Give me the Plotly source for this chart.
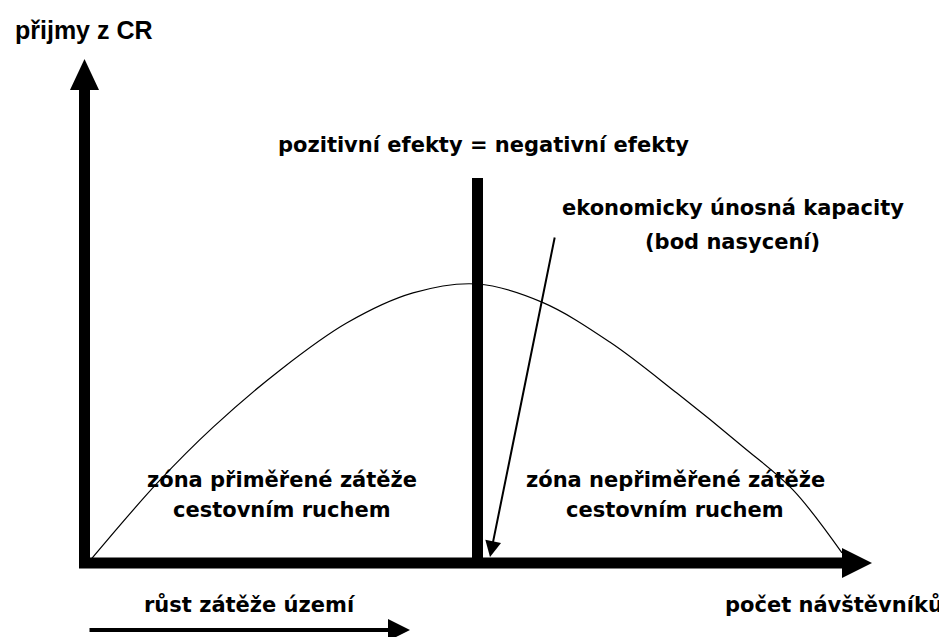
import plotly.graph_objects as go

# curve: visitors (0-100) vs. tourism income (0-100 at the peak)
visitors = [0, 9.2, 16.6, 25.5, 34.3, 43.1, 51.6, 60.2, 69.2, 78.1, 86.9, 93.5, 100]
income = [0, 28.7, 48.7, 69.2, 86.0, 96.8, 100, 93.5, 79.2, 60.9, 41.6, 26.2, 3.6]

# page-pixel -> data helpers; the page body has an 8px margin
PAGE_W, PAGE_H, BODY = 947, 637, 8
X0, XS = 88, 7.54
Y0, YS = 563, 2.79


def px(xp):
    return (xp - X0) / XS


def py(yp):
    return (Y0 - yp) / YS


FONT = "DejaVu Sans"

fig = go.Figure()

fig.add_trace(go.Scatter(x=visitors, y=income, mode='lines',
                         line=dict(color='black', width=1.2, shape='spline'),
                         hoverinfo='skip', showlegend=False))

shapes = [
    # x axis
    dict(type='line', x0=px(79), x1=px(844), y0=py(563), y1=py(563),
         line=dict(color='black', width=11)),
    dict(type='path', fillcolor='black', line=dict(width=0),
         path=f"M {px(842)} {py(548)} L {px(872)} {py(563)} L {px(842)} {py(578)} Z"),
    # y axis
    dict(type='line', x0=px(84.5), x1=px(84.5), y0=py(568), y1=py(88),
         line=dict(color='black', width=11)),
    dict(type='path', fillcolor='black', line=dict(width=0),
         path=f"M {px(70)} {py(90)} L {px(84.5)} {py(59)} L {px(99)} {py(90)} Z"),
    # positive = negative effects divider
    dict(type='line', x0=px(477.5), x1=px(477.5), y0=py(178), y1=py(560),
         line=dict(color='black', width=11)),
]
for s in shapes:
    s.update(xref='x', yref='y', layer='above')

annotations = [
    dict(x=px(13), y=py(30), text='<b>přijmy z CR</b>', xanchor='left',
         font=dict(family='Liberation Sans', size=25)),
    dict(x=px(483), y=py(145), text='<b>pozitivní efekty = negativní efekty</b>'),
    dict(x=px(733), y=py(208), text='<b>ekonomicky únosná kapacity</b>'),
    dict(x=px(732), y=py(242), text='<b>(bod nasycení)</b>'),
    dict(x=px(282), y=py(480), text='<b>zóna přiměřené zátěže</b>'),
    dict(x=px(282), y=py(510), text='<b>cestovním ruchem</b>'),
    dict(x=px(675), y=py(480), text='<b>zóna nepřiměřené zátěže</b>'),
    dict(x=px(675), y=py(510), text='<b>cestovním ruchem</b>'),
    dict(x=px(250), y=py(605), text='<b>růst zátěže území</b>'),
    dict(x=px(945), y=py(605), text='<b>počet návštěvníků</b>', xanchor='right'),
]
for a in annotations:
    a.setdefault('xanchor', 'center')
    a.setdefault('font', dict(family=FONT, size=21))
    a['font']['color'] = 'black'
    a.update(xref='x', yref='y', yanchor='middle', showarrow=False)

# saturation point arrow and load growth arrow
annotations.append(dict(x=px(490), y=py(557), ax=px(555), ay=py(236),
                        xref='x', yref='y', axref='x', ayref='y', text='',
                        showarrow=True, arrowhead=2, arrowsize=1.6,
                        arrowwidth=2, arrowcolor='black', standoff=0))
annotations.append(dict(x=px(410), y=py(630), ax=px(88), ay=py(630),
                        xref='x', yref='y', axref='x', ayref='y', text='',
                        showarrow=True, arrowhead=2, arrowsize=1.1,
                        arrowwidth=4, arrowcolor='black', standoff=0))

fig.update_layout(
    width=PAGE_W - BODY, height=PAGE_H - BODY, autosize=False,
    margin=dict(l=0, r=0, t=0, b=0),
    paper_bgcolor='white', plot_bgcolor='white',
    xaxis=dict(range=[px(BODY), px(PAGE_W)], visible=False, fixedrange=True),
    yaxis=dict(range=[py(PAGE_H), py(BODY)], visible=False, fixedrange=True),
    shapes=shapes,
    annotations=annotations,
)

fig.write_html("out.html")
